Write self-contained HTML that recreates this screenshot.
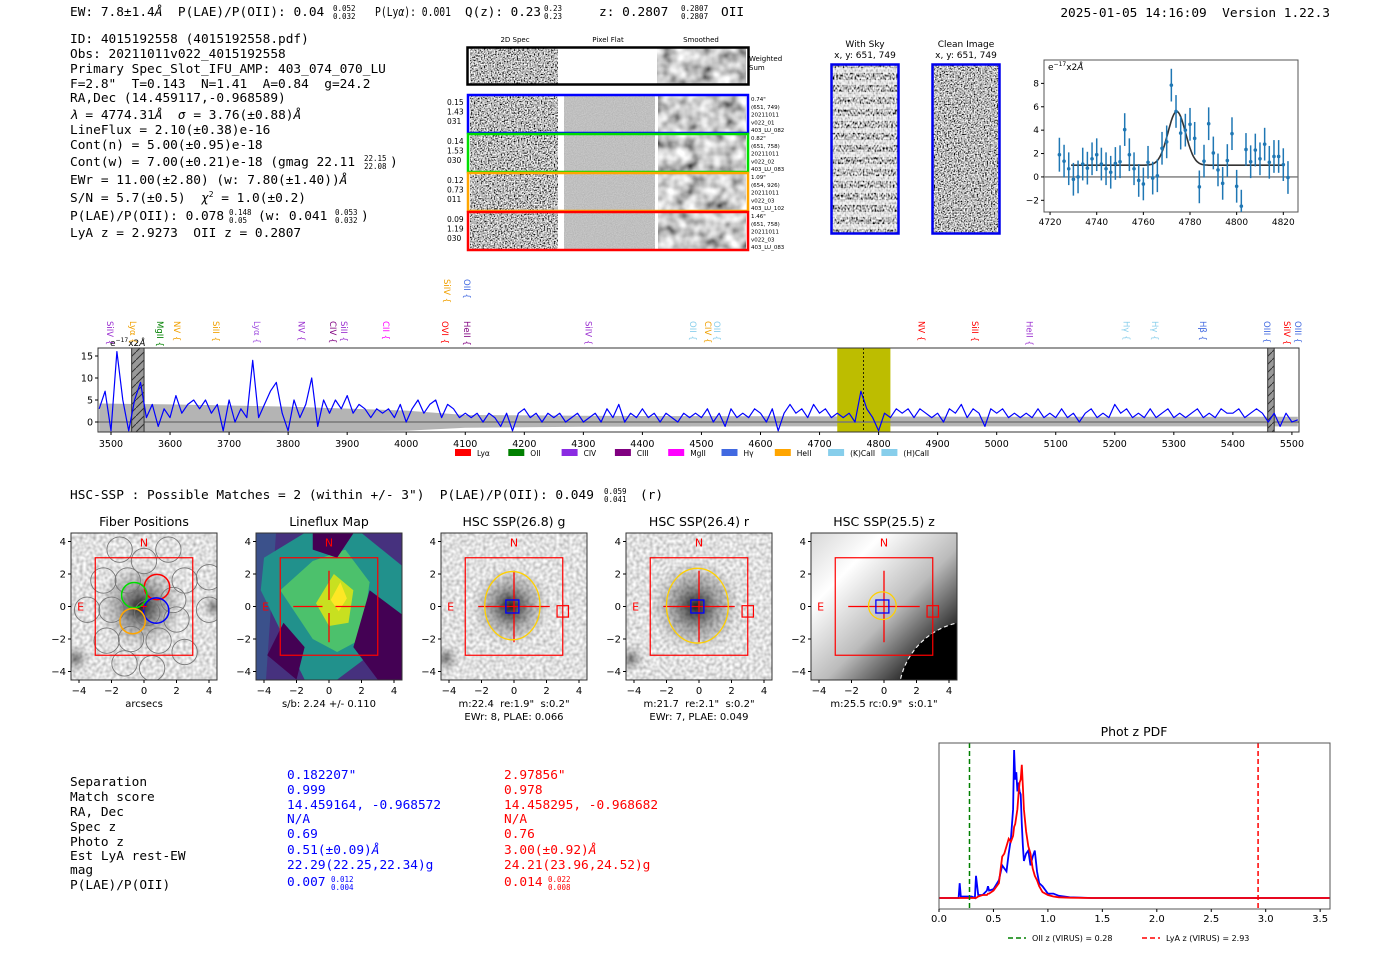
<!DOCTYPE html>
<html><head><meta charset="utf-8">
<style>
html,body{margin:0;padding:0;background:#fff;}
svg{display:block;}
text{white-space:pre;}
.m{font-family:"DejaVu Sans Mono","Liberation Mono",monospace;font-size:12.8px;fill:#000;}
.ms{font-family:"DejaVu Sans Mono","Liberation Mono",monospace;font-size:7.5px;fill:#000;}
.s{font-family:"DejaVu Sans","Liberation Sans",sans-serif;fill:#000;}
</style></head>
<body>
<svg id="fig" width="1400" height="953" viewBox="0 0 1400 953" xmlns="http://www.w3.org/2000/svg" xml:space="preserve">
<defs>
<filter id="nHi" x="0" y="0" width="100%" height="100%"><feTurbulence type="fractalNoise" baseFrequency="0.7" numOctaves="1" seed="4"/><feColorMatrix type="matrix" values="1 0 0 0 0 1 0 0 0 0 1 0 0 0 0 0 0 0 0 1"/><feComponentTransfer><feFuncR type="linear" slope="2.6" intercept="-0.8"/><feFuncG type="linear" slope="2.6" intercept="-0.8"/><feFuncB type="linear" slope="2.6" intercept="-0.8"/></feComponentTransfer></filter>
<filter id="nLo" x="0" y="0" width="100%" height="100%"><feTurbulence type="fractalNoise" baseFrequency="0.08" numOctaves="2" seed="7"/><feColorMatrix type="matrix" values="1 0 0 0 0 1 0 0 0 0 1 0 0 0 0 0 0 0 0 1"/><feComponentTransfer><feFuncR type="linear" slope="1.5" intercept="-0.15"/><feFuncG type="linear" slope="1.5" intercept="-0.15"/><feFuncB type="linear" slope="1.5" intercept="-0.15"/></feComponentTransfer></filter>
<filter id="nFlat" x="0" y="0" width="100%" height="100%"><feTurbulence type="fractalNoise" baseFrequency="0.9" numOctaves="1" seed="2"/><feColorMatrix type="matrix" values="1 0 0 0 0 1 0 0 0 0 1 0 0 0 0 0 0 0 0 1"/><feComponentTransfer><feFuncR type="linear" slope="0.25" intercept="0.4"/><feFuncG type="linear" slope="0.25" intercept="0.4"/><feFuncB type="linear" slope="0.25" intercept="0.4"/></feComponentTransfer></filter>
<filter id="nCut" x="0" y="0" width="100%" height="100%"><feTurbulence type="fractalNoise" baseFrequency="0.3" numOctaves="1" seed="9"/><feColorMatrix type="matrix" values="1 0 0 0 0 1 0 0 0 0 1 0 0 0 0 0 0 0 0 1"/><feComponentTransfer><feFuncR type="linear" slope="0.9" intercept="0.3"/><feFuncG type="linear" slope="0.9" intercept="0.3"/><feFuncB type="linear" slope="0.9" intercept="0.3"/></feComponentTransfer></filter>
<filter id="nSky" x="0" y="0" width="100%" height="100%"><feTurbulence type="fractalNoise" baseFrequency="0.6 0.4" numOctaves="1" seed="5"/><feColorMatrix type="matrix" values="1 0 0 0 0 1 0 0 0 0 1 0 0 0 0 0 0 0 0 1"/><feComponentTransfer><feFuncR type="linear" slope="2.4" intercept="-0.7"/><feFuncG type="linear" slope="2.4" intercept="-0.7"/><feFuncB type="linear" slope="2.4" intercept="-0.7"/></feComponentTransfer></filter>
<radialGradient id="blob" cx="50%" cy="50%" r="50%"><stop offset="0" stop-color="#000" stop-opacity="0.85"/><stop offset="0.5" stop-color="#222" stop-opacity="0.35"/><stop offset="1" stop-color="#444" stop-opacity="0"/></radialGradient>
<linearGradient id="zgrad" x1="0" y1="0" x2="1" y2="1"><stop offset="0" stop-color="#d8d8d8"/><stop offset="0.25" stop-color="#fff"/><stop offset="0.55" stop-color="#bbb"/><stop offset="0.8" stop-color="#333"/><stop offset="1" stop-color="#000"/></linearGradient>
<pattern id="hatch" width="8" height="8" patternUnits="userSpaceOnUse"><rect width="8" height="8" fill="#999"/><path d="M0 8 L8 0" stroke="#333" stroke-width="1"/></pattern>
<clipPath id="specClip"><rect x="98" y="348" width="1201" height="84"/></clipPath>
<clipPath id="fitClip"><rect x="1044" y="60" width="254" height="152"/></clipPath>
<clipPath id="pdfClip"><rect x="939" y="743" width="391" height="166"/></clipPath>
</defs>

<g>
<text class="m" x="70" y="16">EW: 7.8±1.4<tspan font-style="italic">Å</tspan>  P(LAE)/P(OII): 0.04</text>
<text class="ms" x="333" y="11">0.052</text><text class="ms" x="333" y="19">0.032</text>
<text class="m" x="375" y="16" textLength="76" lengthAdjust="spacingAndGlyphs">P(Ly<tspan font-style="italic">α</tspan>): 0.001</text>
<text class="m" x="465" y="16" textLength="76" lengthAdjust="spacingAndGlyphs">Q(z): 0.23</text>
<text class="ms" x="544" y="11">0.23</text><text class="ms" x="544" y="19">0.23</text>
<text class="m" x="599" y="16">z: 0.2807</text>
<text class="ms" x="681" y="11">0.2807</text><text class="ms" x="681" y="19">0.2807</text>
<text class="m" x="721" y="16">OII</text>
<text class="m" x="1330" y="17" text-anchor="end">2025-01-05 14:16:09  Version 1.22.3</text>
</g>

<g>
<text class="m" x="70" y="43">ID: 4015192558 (4015192558.pdf)</text>
<text class="m" x="70" y="58">Obs: 20211011v022_4015192558</text>
<text class="m" x="70" y="73">Primary Spec_Slot_IFU_AMP: 403_074_070_LU</text>
<text class="m" x="70" y="88">F=2.8"  T=0.143  N=1.41  A=0.84  g=24.2</text>
<text class="m" x="70" y="102">RA,Dec (14.459117,-0.968589)</text>
<text class="m" x="70" y="119"><tspan font-style="italic">λ</tspan> = 4774.31<tspan font-style="italic">Å</tspan>  <tspan font-style="italic">σ</tspan> = 3.76(±0.88)<tspan font-style="italic">Å</tspan></text>
<text class="m" x="70" y="134">LineFlux = 2.10(±0.38)e-16</text>
<text class="m" x="70" y="149">Cont(n) = 5.00(±0.95)e-18</text>
<text class="m" x="70" y="166">Cont(w) = 7.00(±0.21)e-18 (gmag 22.11</text>
<text class="ms" x="364" y="161">22.15</text><text class="ms" x="364" y="169">22.08</text>
<text class="m" x="390" y="166">)</text>
<text class="m" x="70" y="184">EWr = 11.00(±2.80) (w: 7.80(±1.40))<tspan font-style="italic">Å</tspan></text>
<text class="m" x="70" y="202">S/N = 5.7(±0.5)  <tspan font-style="italic">χ</tspan><tspan font-size="8" dy="-5">2</tspan><tspan dy="5"> = 1.0(±0.2)</tspan></text>
<text class="m" x="70" y="220">P(LAE)/P(OII): 0.078</text>
<text class="ms" x="229" y="215">0.148</text><text class="ms" x="229" y="223">0.05</text>
<text class="m" x="258" y="220">(w: 0.041</text>
<text class="ms" x="335" y="215">0.053</text><text class="ms" x="335" y="223">0.032</text>
<text class="m" x="361" y="220">)</text>
<text class="m" x="70" y="237">LyA z = 2.9273  OII z = 0.2807</text>
</g>

<g>
<text class="s" font-size="7" x="515" y="42" text-anchor="middle">2D Spec</text>
<text class="s" font-size="7" x="608" y="42" text-anchor="middle">Pixel Flat</text>
<text class="s" font-size="7" x="701" y="42" text-anchor="middle">Smoothed</text>
<g>
<rect x="470" y="48" width="88" height="36" filter="url(#nHi)"/>
<rect x="558" y="48" width="99" height="36" fill="#fff"/>
<rect x="657" y="48" width="89" height="36" filter="url(#nLo)"/>
<rect x="467.5" y="47.5" width="281" height="37" fill="none" stroke="#000" stroke-width="2.5"/>
<text class="s" font-size="7" x="749" y="61">Weighted</text><text class="s" font-size="7" x="749" y="70">Sum</text>
</g>
<g id="fiberRows"></g>
</g>

<g>
<text class="s" font-size="9" x="865" y="47" text-anchor="middle">With Sky</text>
<text class="s" font-size="9" x="865" y="58" text-anchor="middle">x, y: 651, 749</text>
<rect x="832" y="65" width="66" height="168" filter="url(#nSky)"/>
<g id="skyStripes"></g>
<rect x="831.5" y="64.5" width="67" height="169" fill="none" stroke="#0000ee" stroke-width="2.5"/>
</g>
<g>
<text class="s" font-size="9" x="966" y="47" text-anchor="middle">Clean Image</text>
<text class="s" font-size="9" x="966" y="58" text-anchor="middle">x, y: 651, 749</text>
<rect x="933" y="65" width="66" height="168" filter="url(#nHi)"/>
<rect x="932.5" y="64.5" width="67" height="169" fill="none" stroke="#0000ee" stroke-width="2.5"/>
</g>

<g id="fitPlot">
<rect x="1044" y="60" width="254" height="152" fill="#fff" stroke="#555" stroke-width="1"/>
<text class="s" font-size="9" x="1048" y="70">e<tspan font-size="6" dy="-4">−17</tspan><tspan dy="4">x2<tspan font-style="italic">Å</tspan></tspan></text>
</g>

<g id="specPlot"></g>

<g>
<text class="m" x="70" y="499">HSC-SSP : Possible Matches = 2 (within +/- 3")  P(LAE)/P(OII): 0.049</text>
<text class="ms" x="604" y="494">0.059</text><text class="ms" x="604" y="502">0.041</text>
<text class="m" x="640" y="499">(r)</text>
</g>

<g id="cutouts"></g>

<g>
<g>
<text class="m" x="70" y="786">Separation</text>
<text class="m" x="70" y="801">Match score</text>
<text class="m" x="70" y="816">RA, Dec</text>
<text class="m" x="70" y="831">Spec z</text>
<text class="m" x="70" y="846">Photo z</text>
<text class="m" x="70" y="860">Est LyA rest-EW</text>
<text class="m" x="70" y="874">mag</text>
<text class="m" x="70" y="889">P(LAE)/P(OII)</text>
</g>
<g>
<text class="m" style="fill:#0000ff" x="287" y="779">0.182207"</text>
<text class="m" style="fill:#0000ff" x="287" y="794">0.999</text>
<text class="m" style="fill:#0000ff" x="287" y="809">14.459164, -0.968572</text>
<text class="m" style="fill:#0000ff" x="287" y="823">N/A</text>
<text class="m" style="fill:#0000ff" x="287" y="838">0.69</text>
<text class="m" style="fill:#0000ff" x="287" y="854">0.51(±0.09)<tspan font-style="italic">Å</tspan></text>
<text class="m" style="fill:#0000ff" x="287" y="869">22.29(22.25,22.34)g</text>
<text class="m" style="fill:#0000ff" x="287" y="886">0.007</text>
<text class="ms" style="fill:#0000ff" x="331" y="882">0.012</text><text class="ms" style="fill:#0000ff" x="331" y="890">0.004</text>
</g>
<g>
<text class="m" style="fill:#ff0000" x="504" y="779">2.97856"</text>
<text class="m" style="fill:#ff0000" x="504" y="794">0.978</text>
<text class="m" style="fill:#ff0000" x="504" y="809">14.458295, -0.968682</text>
<text class="m" style="fill:#ff0000" x="504" y="823">N/A</text>
<text class="m" style="fill:#ff0000" x="504" y="838">0.76</text>
<text class="m" style="fill:#ff0000" x="504" y="854">3.00(±0.92)<tspan font-style="italic">Å</tspan></text>
<text class="m" style="fill:#ff0000" x="504" y="869">24.21(23.96,24.52)g</text>
<text class="m" style="fill:#ff0000" x="504" y="886">0.014</text>
<text class="ms" style="fill:#ff0000" x="548" y="882">0.022</text><text class="ms" style="fill:#ff0000" x="548" y="890">0.008</text>
</g>
</g>

<g id="pdfPlot">
<text class="s" font-size="12.5" x="1134" y="736" text-anchor="middle">Phot z PDF</text>
</g>
</svg>

<script>
// ---------- full spectrum data ----------
const specStartWave = 3480;
const specStepWave = 10;
const specFlux = [3,7,-2,16,5,-2,5,9,1,4,
-1,3,1,6,2,4,5,3,5,2,
4,-2,5,0,3,1,14,1,4,7,
9,2,-2,5,1,4,10,-1,5,2,
5,3,6,2,4,3,1,3,2,3,
1,4,0,3,5,2,4,5,1,4,
3,1,2,1,2,0,2,1,-1,2,
-2,2,3,1,2,0,2,1,2,0,
1,2,0,1,2,0,3,1,4,0,
2,1,3,1,2,0,2,1,0,2,
1,2,1,3,0,2,-1,3,1,2,
1,3,2,0,3,-2,2,4,2,3,
1,4,2,3,1,2,1,2,0,7,
3,1,-2,2,1,3,2,3,1,3,
2,1,2,0,3,2,4,1,3,2,
-1,3,2,3,1,2,1,2,1,3,
1,2,1,3,1,2,0,2,3,1,
2,1,4,2,3,1,2,1,3,1,
2,3,1,2,1,2,3,1,2,1,
3,2,2,3,1,2,3,2,0,2,
-1,2,0,0.5];
const bandWaves = [3480,3600,3800,4000,4100,4300,4600,5000,5510];
const bandHi = [4.2,4.0,3.5,2.6,1.6,1.4,1.3,1.2,1.2];
const bandLo = [-2.5,-2.3,-2.1,-2.0,-1.3,-1.1,-1.0,-1.0,-1.0];
const specTicks = [3500,3600,3700,3800,3900,4000,4100,4200,4300,4400,4500,4600,4700,4800,4900,5000,5100,5200,5300,5400,5500];
const specYTicks = [0,5,10,15];
const lineNames = ["SiIV","Lyα","MgII","NV","SiII","Lyα","NV","CIV","SiII","CII","OVI","HeII","SiIV","OII","SiIV","OII","CIV","OII","NV","SiII","HeII","Hγ","Hγ","Hβ","OIII","SiIV","OIII"];
const lineWaves = [3498,3537,3583,3612,3678,3747,3823,3876,3895,3966,4066,4103,4069,4103,4309,4486,4511,4526,4873,4963,5056,5220,5268,5349,5458,5492,5510];
const lineRow = [0,0,0,0,0,0,0,0,0,0,0,0,1,1,0,0,0,0,0,0,0,0,0,0,0,0,0];
const lineColors = ["#9b30d0","#f0a000","#008000","#f0a000","#f0a000","#a050e0","#9b30d0","#800080","#9b30d0","#ff00ff","#ff0000","#800080","#f0a000","#4169e1","#9b30d0","#87ceeb","#f0a000","#87ceeb","#ff0000","#ff0000","#9b30d0","#87ceeb","#87ceeb","#4169e1","#4169e1","#ff0000","#4169e1"];
const legendNames = ["Lyα","OII","CIV","CIII","MgII","Hγ","HeII","(K)CaII","(H)CaII"];
const legendColors = ["#ff0000","#008000","#8a2be2","#800080","#ff00ff","#4169e1","#ffa500","#87ceeb","#87ceeb"];
const fitWindow = [4730,4820];
const lineCenter = 4774.31;

// ---------- line fit data ----------
const fitStartWave = 4724;
const fitStepWave = 2;
const fitFlux = [1.9,1.35,0.7,-0.2,0.0,1.1,0.75,1.55,1.9,1.1,0.7,0.4,1.15,1.3,4.05,1.9,0.7,-0.3,-0.6,1.25,-0.1,0.1,2.45,3.0,7.85,5.6,3.75,4.0,4.5,3.3,-0.85,1.35,4.55,2.05,0.6,-0.55,1.4,3.7,-0.8,-2.5,2.35,1.3,2.3,1.55,2.8,1.25,1.75,1.75,1.05,-0.05];
const fitErr = [1.45,1.4,1.4,1.4,1.4,1.4,1.4,1.4,1.4,1.4,1.4,1.4,1.4,1.4,1.4,1.4,1.4,1.4,1.4,1.4,1.4,1.4,1.4,1.4,1.4,1.4,1.4,1.4,1.4,1.4,1.4,1.4,1.4,1.4,1.4,1.4,1.4,1.4,1.4,1.4,1.4,1.4,1.4,1.4,1.4,1.4,1.4,1.4,1.4,1.4];
const fitModelCont = [1.0];
const fitModelAmp = [4.6];
const fitModelSigma = [3.76];
const fitXTicks = [4720,4740,4760,4780,4800,4820];
const fitYTicks = [-2,0,2,4,6,8];

// ---------- photz pdf data ----------
const pdfZ = [0.0,0.1,0.18,0.19,0.2,0.3,0.33,0.34,0.36,0.4,0.44,0.45,0.46,0.5,0.55,0.58,0.6,0.62,0.64,0.66,0.68,0.69,0.7,0.71,0.72,0.73,0.74,0.75,0.76,0.77,0.78,0.8,0.82,0.84,0.86,0.88,0.9,0.92,0.95,1.0,1.05,1.1,1.2,1.4,3.6];
const pdfBlue = [0,0,0,0.1,0.01,0.01,0.0,0.15,0.02,0.02,0.05,0.08,0.05,0.06,0.12,0.22,0.2,0.18,0.3,0.4,0.6,1.0,0.8,0.85,0.72,0.78,0.72,0.7,0.5,0.35,0.25,0.3,0.32,0.22,0.28,0.32,0.18,0.1,0.08,0.03,0.03,0.015,0.005,0,0];
const pdfRed = [0,0,0,0,0,0,0,0,0.01,0.02,0.02,0.03,0.03,0.05,0.1,0.28,0.3,0.35,0.4,0.38,0.42,0.48,0.5,0.55,0.6,0.7,0.78,0.8,0.9,0.75,0.6,0.45,0.35,0.3,0.2,0.15,0.12,0.08,0.04,0.02,0.01,0.005,0.002,0,0];
const pdfXTicks = [0.0,0.5,1.0,1.5,2.0,2.5,3.0,3.5];
const oiiZ = [0.28];
const lyaZ = [2.93];

// ---------- fiber row info ----------
const fiberColors = ["#0000ff","#00dd00","#ffa500","#ff0000"];
const fiberLeft = [["0.15","1.43","031"],["0.14","1.53","030"],["0.12","0.73","011"],["0.09","1.19","030"]];
const fiberRight = [["0.74\"","(651, 749)","20211011","v022_01","403_LU_082"],["0.82\"","(651, 758)","20211011","v022_02","403_LU_083"],["1.09\"","(654, 926)","20211011","v022_03","403_LU_102"],["1.46\"","(651, 758)","20211011","v022_03","403_LU_083"]];

const NS = "http://www.w3.org/2000/svg";
function mk(tag, attrs, parent){
  const e = document.createElementNS(NS, tag);
  for (const k in attrs) e.setAttribute(k, attrs[k]);
  parent.appendChild(e);
  return e;
}
function txt(str, attrs, parent){ const e = mk("text", attrs, parent); e.textContent = str; return e; }

(function(){
  const g = document.getElementById("fiberRows");
  for (let i=0;i<4;i++){
    const y = 96 + i*39;
    const row = mk("g", {}, g);
    
    
    mk("rect",{x:470,y:y,width:88,height:36,filter:"url(#nHi)"},row);
    mk("rect",{x:558,y:y,width:6,height:36,fill:"#fff"},row);
    mk("rect",{x:564,y:y,width:91,height:36,filter:"url(#nFlat)"},row);
    mk("rect",{x:655,y:y,width:3,height:36,fill:"#fff"},row);
    mk("rect",{x:658,y:y,width:88,height:36,filter:"url(#nLo)"},row);
    mk("rect",{x:468,y:y-1,width:280,height:38,fill:"none",stroke:fiberColors[i],"stroke-width":2.5},row);
    fiberLeft[i].forEach((s,j)=>txt(s,{x:447,y:y+9+j*9.5,"font-size":7.5,class:"s"},row));
    fiberRight[i].forEach((s,j)=>txt(s,{x:751,y:y+5+j*7.8,"font-size":5.5,class:"s"},row));
  }
  const sk = document.getElementById("skyStripes");
  for (let k=0;k<14;k++){
    const st = mk("rect",{x:832,y:68+k*12,width:66,height:5,fill:"#f4f4f4",opacity:0.7},sk);
    
    
  }
})();

(function(){
  const g = document.getElementById("fitPlot");
  const X0=1044, X1=1298, Y0=60, Y1=212, wMin=4717.4, wMax=4826.3, fMin=-3, fMax=10;
  const fx = w => X0 + (w-wMin)*(X1-X0)/(wMax-wMin);
  const fy = f => Y1 - (f-fMin)*(Y1-Y0)/(fMax-fMin);
  const zero = mk("line",{x1:X0,x2:X1,y1:fy(0),y2:fy(0),stroke:"#777","stroke-width":1.3},g);
  
  
  const cg = mk("g",{"clip-path":"url(#fitClip)"},g);
  let d="";
  for (let w=fitWindow[0]-1; w<=fitWindow[1]; w+=0.5){
    const f = fitModelCont[0] + fitModelAmp[0]*Math.exp(-0.5*Math.pow((w-lineCenter)/fitModelSigma[0],2));
    d += (d?"L":"M")+fx(w).toFixed(1)+" "+fy(f).toFixed(1);
  }
  const model = mk("path",{d:d,fill:"none",stroke:"#333","stroke-width":1.6},cg);
  
  
  fitFlux.forEach((f,i)=>{
    const w = fitStartWave + i*fitStepWave;
    const eb = mk("line",{x1:fx(w),x2:fx(w),y1:fy(f-fitErr[i]),y2:fy(f+fitErr[i]),stroke:"#1f77b4","stroke-width":1.5},cg);
    
    
    const pt = mk("circle",{cx:fx(w),cy:fy(f),r:1.8,fill:"#1f77b4"},cg);
    
    
  });
  fitXTicks.forEach(t=>{
    mk("line",{x1:fx(t),x2:fx(t),y1:Y1,y2:Y1+3,stroke:"#000"},g);
    const l = txt(String(t),{x:fx(t),y:Y1+13,"text-anchor":"middle","font-size":9,class:"s"},g);
    
    
  });
  fitYTicks.forEach(t=>{
    mk("line",{x1:X0-3,x2:X0,y1:fy(t),y2:fy(t),stroke:"#000"},g);
    const l = txt(t<0?"−"+Math.abs(t):String(t),{x:X0-5,y:fy(t)+3,"text-anchor":"end","font-size":9,class:"s"},g);
    
    
  });
})();

(function(){
  const g = document.getElementById("specPlot");
  const X0=98, X1=1299, Y0=348, Y1=432, wMin=3478, wMax=5512;
  const sx = w => X0 + (w-wMin)*(X1-X0)/(wMax-wMin);
  const sy = f => 422 - f*4.4;
  mk("rect",{x:X0,y:Y0,width:X1-X0,height:Y1-Y0,fill:"#fff"},g);
  const cg = mk("g",{"clip-path":"url(#specClip)"},g);
  let d="M";
  bandWaves.forEach((w,i)=>{ d += (i?"L":"")+sx(w).toFixed(1)+" "+sy(bandHi[i]).toFixed(1); });
  for (let i=bandWaves.length-1;i>=0;i--) d += "L"+sx(bandWaves[i]).toFixed(1)+" "+sy(bandLo[i]).toFixed(1);
  const band = mk("path",{d:d+"Z",fill:"#b4b4b4"},cg);
  
  
  const win = mk("rect",{x:sx(fitWindow[0]),y:Y0,width:sx(fitWindow[1])-sx(fitWindow[0]),height:Y1-Y0,fill:"#bdbd00"},cg);
  
  
  const z = mk("line",{x1:X0,x2:X1,y1:sy(0),y2:sy(0),stroke:"#777","stroke-width":1.5},cg);
  
  
  const h1 = mk("rect",{x:sx(3535),y:Y0,width:sx(3556)-sx(3535),height:Y1-Y0,fill:"url(#hatch)",stroke:"#333"},cg);
  
  
  const h2 = mk("rect",{x:sx(5459),y:Y0,width:sx(5470)-sx(5459),height:Y1-Y0,fill:"url(#hatch)",stroke:"#333"},cg);
  
  
  let p="";
  specFlux.forEach((f,i)=>{ const w=specStartWave+i*specStepWave; p += (p?"L":"M")+sx(w).toFixed(1)+" "+sy(f).toFixed(1); });
  const line = mk("path",{d:p,fill:"none",stroke:"#0000ff","stroke-width":1.2,"stroke-linejoin":"round"},cg);
  
  
  const cl = mk("line",{x1:sx(lineCenter),x2:sx(lineCenter),y1:Y0,y2:Y1,stroke:"#000","stroke-width":0.8,"stroke-dasharray":"2,2"},cg);
  
  
  mk("rect",{x:X0,y:Y0,width:X1-X0,height:Y1-Y0,fill:"none",stroke:"#333","stroke-width":1},g);
  const unit = txt("",{x:110,y:346,"font-size":9,class:"s"},g);
  unit.innerHTML = 'e<tspan font-size="6" dy="-4">−17</tspan><tspan dy="4">x2<tspan font-style="italic">Å</tspan></tspan>';
  
  
  specTicks.forEach(t=>{
    mk("line",{x1:sx(t),x2:sx(t),y1:Y1,y2:Y1+3,stroke:"#000"},g);
    const l = txt(String(t),{x:sx(t),y:Y1+15,"text-anchor":"middle","font-size":9.5,class:"s"},g);
    
    
  });
  specYTicks.forEach(t=>{
    mk("line",{x1:X0-3,x2:X0,y1:sy(t),y2:sy(t),stroke:"#000"},g);
    const l = txt(String(t),{x:X0-5,y:sy(t)+3.5,"text-anchor":"end","font-size":9.5,class:"s"},g);
    
    
  });
  lineNames.forEach((n,i)=>{
    const x = sx(lineWaves[i]);
    const yTop = lineRow[i] ? 279 : 321;
    const l = txt(n+" {",{x:0,y:0,"font-size":8.5,class:"s",transform:"translate("+(x-3)+","+yTop+") rotate(90)"},g);
    l.style.fill = lineColors[i];
    
    
  });
  legendNames.forEach((n,i)=>{
    const x = 455 + i*53.3;
    const r = mk("rect",{x:x,y:449,width:16,height:7,fill:legendColors[i]},g);
    
    
    const l = txt(n,{x:x+22,y:456,"font-size":7.5,class:"s"},g);
    
    
  });
})();

(function(){
  const g = document.getElementById("cutouts");
  const titles = ["Fiber Positions","Lineflux Map","HSC SSP(26.8) g","HSC SSP(26.4) r","HSC SSP(25.5) z"];
  const sub1 = ["arcsecs","s/b: 2.24 +/- 0.110","m:22.4  re:1.9\"  s:0.2\"","m:21.7  re:2.1\"  s:0.2\"","m:25.5 rc:0.9\"  s:0.1\""];
  const sub2 = ["","","EWr: 8, PLAE: 0.066","EWr: 7, PLAE: 0.049",""];
  const ticks = [-4,-2,0,2,4];
  for (let i=0;i<5;i++){
    const x0 = 71 + i*185, y0 = 533, W = 146, H = 147, u = 16.25;
    const cx = x0 + W/2, cy = y0 + H/2;
    const X = a => cx + a*u, Y = b => cy - b*u;
    const p = mk("g",{},g);
    
    
    const cid = "cc"+i;
    const cp = mk("clipPath",{id:cid},p); mk("rect",{x:x0,y:y0,width:W,height:H},cp);
    const im = mk("g",{"clip-path":"url(#"+cid+")"},p);
    if (i===1){
      mk("rect",{x:x0,y:y0,width:W,height:H,fill:"#46317e"},im);
      mk("polygon",{points:[[x0,y0],[x0+20,y0],[x0+10,Y(-4.5)],[x0,Y(-4.5)]].map(q=>q.join(",")).join(" "),fill:"#3b518b"},im);
      mk("polygon",{points:[[X(-1.5),y0],[X(2),y0],[X(4.5),Y(2.5)],[X(4.5),Y(-1)],[X(2.5),Y(-3)],[X(0.5),Y(-4.5)],[X(-1.5),Y(-4.5)],[X(-4.2),Y(1)],[X(-4),Y(3)]].map(q=>q.join(",")).join(" "),fill:"#21918c"},im);
      mk("polygon",{points:[[X(-1),Y(2.8)],[X(1),Y(3.5)],[X(2.5),Y(1.5)],[X(2),Y(-2)],[X(0.5),Y(-2.8)],[X(-1),Y(-2)],[X(-3),Y(1)]].map(q=>q.join(",")).join(" "),fill:"#4cc16c"},im);
      mk("polygon",{points:[[X(0.3),Y(2)],[X(1.5),Y(1)],[X(1.2),Y(-1)],[X(0),Y(-1.2)],[X(-0.8),Y(0.2)]].map(q=>q.join(",")).join(" "),fill:"#c8e020"},im);
      mk("polygon",{points:[[X(0.7),Y(1.5)],[X(1.1),Y(0.5)],[X(0.6),Y(-0.3)],[X(0.1),Y(0.4)]].map(q=>q.join(",")).join(" "),fill:"#fde725"},im);
      mk("polygon",{points:[[X(-1),Y(4.5)],[X(1.5),Y(4.5)],[X(0.5),Y(3)],[X(-1),Y(3.5)]].map(q=>q.join(",")).join(" "),fill:"#440154"},im);
      mk("polygon",{points:[[X(2.5),Y(1)],[X(4.5),Y(-0.5)],[X(4.5),Y(-4.5)],[X(3),Y(-4.5)],[X(1.5),Y(-2.5)]].map(q=>q.join(",")).join(" "),fill:"#440154"},im);
      mk("polygon",{points:[[X(-2.8),Y(-1)],[X(-1.5),Y(-2.5)],[X(-2),Y(-4.5)],[X(-3.8),Y(-3)]].map(q=>q.join(",")).join(" "),fill:"#440154"},im);
    } else if (i===4){
      mk("rect",{x:x0,y:y0,width:W,height:H,fill:"url(#zgrad)"},im);
      mk("circle",{cx:X(5.5),cy:Y(-5.5),r:4.6*u,fill:"#000"},im);
      mk("circle",{cx:X(5.5),cy:Y(-5.5),r:4.6*u,fill:"none",stroke:"#eee","stroke-dasharray":"4,3","stroke-width":1.2},im);
    } else {
      mk("rect",{x:x0,y:y0,width:W,height:H,filter:"url(#nCut)"},im);
      const rr = i===0 ? 2.6 : (i===2 ? 2.4 : 2.8);
      mk("circle",{cx:X(-0.2),cy:Y(0),r:rr*u,fill:"url(#blob)"},im);
      mk("circle",{cx:X(-4.2),cy:Y(-3.2),r:0.9*u,fill:"url(#blob)",opacity:0.6},im);
      if (i===0){ mk("circle",{cx:X(4.3),cy:Y(0),r:0.8*u,fill:"url(#blob)",opacity:0.6},im); }
    }
    if (i===0){
      const fib = [[-1.5,3.5],[0,2.8],[1.5,3.5],[-2.5,1.6],[-1,1.6],[2.5,1.6],[4,1.8],[-3.5,-0.2],[-2,-0.2],[2,-0.8],[4,-0.2],[-2.3,-2.1],[-0.8,-2],[0.9,-2.1],[2.5,-2.8],[-1.2,-3.5],[0.5,-3.8],[0.2,-0.4],[1.8,0.4]];
      fib.forEach(q=>{ const c = mk("circle",{cx:X(q[0]),cy:Y(q[1]),r:0.78*u,fill:"none",stroke:"#777","stroke-width":0.9},im);   });
      const col = [[0.8,1.2,"#ff0000"],[-0.6,0.7,"#00dd00"],[0.75,-0.25,"#0000ff"],[-0.7,-0.9,"#ffa500"]];
      col.forEach(q=>{ const c = mk("circle",{cx:X(q[0]),cy:Y(q[1]),r:0.78*u,fill:"none",stroke:q[2],"stroke-width":1.5},im);   });
      mk("path",{d:"M"+X(-0.2)+" "+Y(0)+"h6M"+(X(-0.2)+3)+" "+(Y(0)-3)+"v6",stroke:"#ff0000","stroke-width":1},im);
    } else {
      const cr = mk("path",{d:"M"+X(-2.2)+" "+Y(0)+"H"+X(-0.4)+"M"+X(0.4)+" "+Y(0)+"H"+X(2.2)+"M"+X(0)+" "+Y(2.2)+"V"+Y(0.4)+"M"+X(0)+" "+Y(-0.4)+"V"+Y(-2.2),stroke:"#ff0000","stroke-width":1.3},im);
      if (i>=2) cr.setAttribute("d","M"+X(-2.2)+" "+Y(0)+"H"+X(2.2)+"M"+X(0)+" "+Y(2.2)+"V"+Y(-2.2));
      
      
    }
    if (i>=2){
      const ell = i===2?[1.7,2.1]:(i===3?[1.9,2.3]:[0.85,0.85]);
      const e = mk("ellipse",{cx:X(-0.1),cy:Y(0.05),rx:ell[0]*u,ry:ell[1]*u,fill:"none",stroke:"#ffd000","stroke-width":1.3},im);
      
      
      const b = mk("rect",{x:X(-0.5),y:Y(0.4),width:0.8*u,height:0.8*u,fill:"none",stroke:"#0000ff","stroke-width":1.3},im);
      
      
      const r2 = mk("rect",{x:X(2.65),y:Y(0.05),width:0.7*u,height:0.7*u,fill:"none",stroke:"#ff0000","stroke-width":1.2},im);
      
      
    }
    const sq = mk("rect",{x:X(-3),y:Y(3),width:6*u,height:6*u,fill:"none",stroke:"#ff0000","stroke-width":1.2},im);
    
    
    txt("N",{x:X(0),y:Y(3.7),"text-anchor":"middle","font-size":11,class:"s",style:"fill:#ff0000"},p);
    txt("E",{x:X(-3.9),y:Y(0)+4,"text-anchor":"middle","font-size":11,class:"s",style:"fill:#ff0000"},p);
    mk("rect",{x:x0,y:y0,width:W,height:H,fill:"none",stroke:"#333","stroke-width":1},p);
    const t = txt(titles[i],{x:cx,y:526,"text-anchor":"middle","font-size":12.5,class:"s"},p);
    
    
    ticks.forEach(v=>{
      mk("line",{x1:X(v),x2:X(v),y1:y0+H,y2:y0+H+3,stroke:"#000"},p);
      txt(v<0?"−"+Math.abs(v):String(v),{x:X(v),y:y0+H+14,"text-anchor":"middle","font-size":10,class:"s"},p);
      mk("line",{x1:x0-3,x2:x0,y1:Y(v),y2:Y(v),stroke:"#000"},p);
      txt(v<0?"−"+Math.abs(v):String(v),{x:x0-5,y:Y(v)+3.5,"text-anchor":"end","font-size":10,class:"s"},p);
    });
    const s1 = txt(sub1[i],{x:cx,y:707,"text-anchor":"middle","font-size":10,class:"s"},p);
    
    
    if (sub2[i]) txt(sub2[i],{x:cx,y:720,"text-anchor":"middle","font-size":10,class:"s"},p);
  }
})();

(function(){
  const g = document.getElementById("pdfPlot");
  const X0=939, X1=1330, Y0=743, Y1=909;
  const px = z => X0 + z*108.9;
  const py = v => 898 - v*148;
  mk("rect",{x:X0,y:Y0,width:X1-X0,height:Y1-Y0,fill:"#fff"},g);
  const cg = mk("g",{"clip-path":"url(#pdfClip)"},g);
  let d="";
  pdfZ.forEach((z,i)=>{ d += (d?"L":"M")+px(z).toFixed(1)+" "+py(pdfBlue[i]).toFixed(1); });
  const b = mk("path",{d:d,fill:"none",stroke:"#0000ff","stroke-width":1.8},cg);
  
  
  d="";
  pdfZ.forEach((z,i)=>{ d += (d?"L":"M")+px(z).toFixed(1)+" "+py(pdfRed[i]).toFixed(1); });
  const r = mk("path",{d:d,fill:"none",stroke:"#ff0000","stroke-width":1.8},cg);
  
  
  const og = mk("line",{x1:px(oiiZ[0]),x2:px(oiiZ[0]),y1:Y0,y2:Y1,stroke:"#008000","stroke-width":1.5,"stroke-dasharray":"5,3"},cg);
  
  
  const lg = mk("line",{x1:px(lyaZ[0]),x2:px(lyaZ[0]),y1:Y0,y2:Y1,stroke:"#ff0000","stroke-width":1.5,"stroke-dasharray":"5,3"},cg);
  
  
  mk("rect",{x:X0,y:Y0,width:X1-X0,height:Y1-Y0,fill:"none",stroke:"#555","stroke-width":1},g);
  pdfXTicks.forEach(t=>{
    mk("line",{x1:px(t),x2:px(t),y1:Y1,y2:Y1+3,stroke:"#000"},g);
    const l = txt(t.toFixed(1),{x:px(t),y:Y1+13,"text-anchor":"middle","font-size":10,class:"s"},g);
    
    
  });
  const l1 = mk("g",{},g);
  
  
  mk("line",{x1:1008,x2:1026,y1:938,y2:938,stroke:"#008000","stroke-width":1.5,"stroke-dasharray":"5,3"},l1);
  txt("OII z (VIRUS) = 0.28",{x:1032,y:941,"font-size":8,class:"s"},l1);
  const l2 = mk("g",{},g);
  
  
  mk("line",{x1:1142,x2:1160,y1:938,y2:938,stroke:"#ff0000","stroke-width":1.5,"stroke-dasharray":"5,3"},l2);
  txt("LyA z (VIRUS) = 2.93",{x:1166,y:941,"font-size":8,class:"s"},l2);
})();
</script>
</body></html>
